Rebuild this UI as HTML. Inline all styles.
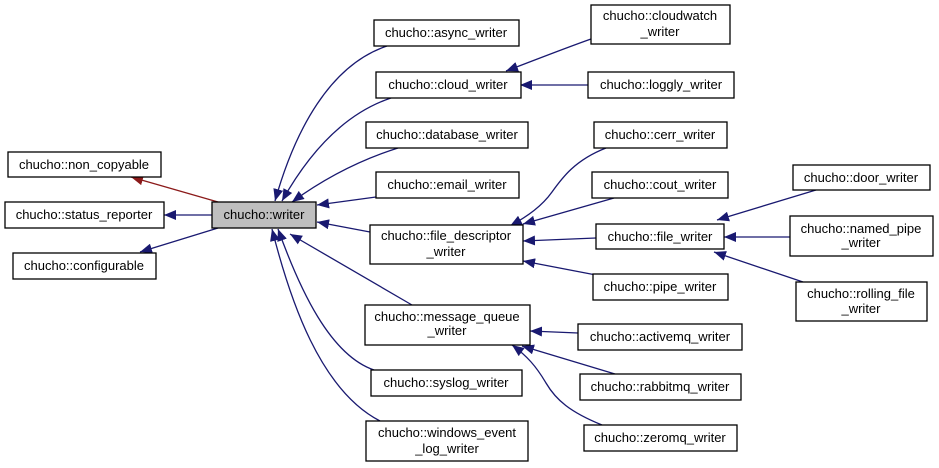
<!DOCTYPE html>
<html><head><style>
html,body{margin:0;padding:0;background:#fff;}
svg{display:block;}
text{font-family:"Liberation Sans",Arial,sans-serif;font-size:13px;fill:#000;text-anchor:middle;}
rect{fill:#fff;stroke:#000;stroke-width:1.3;}
path.e{fill:none;stroke:#191970;stroke-width:1.3;}
</style></head><body>
<svg width="939" height="468" viewBox="0 0 939 468" xmlns="http://www.w3.org/2000/svg">
<defs>
<marker id="a" markerUnits="userSpaceOnUse" markerWidth="14" markerHeight="10" refX="12" refY="5" orient="auto"><path d="M0,0 L12,5 L0,10 z" fill="#191970"/></marker>
<marker id="r" markerUnits="userSpaceOnUse" markerWidth="14" markerHeight="10" refX="12" refY="5" orient="auto"><path d="M0,0 L12,5 L0,10 z" fill="#8b1a1a"/></marker>
</defs>
<!-- edges -->
<path d="M218,202 L131,177" style="fill:none;stroke:#8b1a1a;stroke-width:1.3" marker-end="url(#r)"/>
<path class="e" d="M212,215 L164,215" marker-end="url(#a)"/>
<path class="e" d="M218,228 L140,252" marker-end="url(#a)"/>
<path class="e" d="M387,46 C330,65 295,130 275,201" marker-end="url(#a)"/>
<path class="e" d="M391,98 C340,115 305,160 282,201" marker-end="url(#a)"/>
<path class="e" d="M398,148 C360,160 325,178 292,202" marker-end="url(#a)"/>
<path class="e" d="M376,197 L317,205" marker-end="url(#a)"/>
<path class="e" d="M370,232 L317,222" marker-end="url(#a)"/>
<path class="e" d="M412,305 L290,234" marker-end="url(#a)"/>
<path class="e" d="M374,370 C330,355 300,290 278,229" marker-end="url(#a)"/>
<path class="e" d="M380,421 C320,390 290,300 272,229" marker-end="url(#a)"/>
<path class="e" d="M591,39 C560,50 530,62 506,71" marker-end="url(#a)"/>
<path class="e" d="M588,85 L520,85" marker-end="url(#a)"/>
<path class="e" d="M606,148 C575,160 562,178 552,192 C542,206 528,216 510,226" marker-end="url(#a)"/>
<path class="e" d="M614,198 L523,224" marker-end="url(#a)"/>
<path class="e" d="M596,238 L523,241" marker-end="url(#a)"/>
<path class="e" d="M596,275 L523,261" marker-end="url(#a)"/>
<path class="e" d="M816,190 L717,220" marker-end="url(#a)"/>
<path class="e" d="M790,237 L724,237" marker-end="url(#a)"/>
<path class="e" d="M803,282 L714,252" marker-end="url(#a)"/>
<path class="e" d="M578,333 L530,331" marker-end="url(#a)"/>
<path class="e" d="M615,374 L522,346" marker-end="url(#a)"/>
<path class="e" d="M602,425 C570,412 556,400 546,383 C536,366 527,356 512,345" marker-end="url(#a)"/>
<!-- nodes -->
<rect x="374" y="20" width="145" height="26"/><text x="446" y="37">chucho::async_writer</text>
<rect x="591" y="5" width="139" height="39"/><text x="660" y="20">chucho::cloudwatch</text><text x="660" y="36">_writer</text>
<rect x="376" y="72" width="145" height="26"/><text x="448" y="89">chucho::cloud_writer</text>
<rect x="588" y="72" width="146" height="26"/><text x="661" y="89">chucho::loggly_writer</text>
<rect x="366" y="122" width="162" height="26"/><text x="447" y="139">chucho::database_writer</text>
<rect x="376" y="172" width="143" height="26"/><text x="447" y="189">chucho::email_writer</text>
<rect x="8" y="152" width="153" height="25"/><text x="84" y="169">chucho::non_copyable</text>
<rect x="5" y="202" width="159" height="26"/><text x="84" y="219">chucho::status_reporter</text>
<rect x="212" y="202" width="104" height="26" style="fill:#bfbfbf"/><text x="264" y="219">chucho::writer</text>
<rect x="13" y="253" width="143" height="26"/><text x="84" y="270">chucho::configurable</text>
<rect x="370" y="225" width="153" height="39"/><text x="446" y="240">chucho::file_descriptor</text><text x="446" y="256">_writer</text>
<rect x="594" y="122" width="133" height="26"/><text x="660" y="139">chucho::cerr_writer</text>
<rect x="592" y="172" width="136" height="26"/><text x="660" y="189">chucho::cout_writer</text>
<rect x="596" y="224" width="128" height="25"/><text x="660" y="241">chucho::file_writer</text>
<rect x="593" y="274" width="135" height="26"/><text x="660" y="291">chucho::pipe_writer</text>
<rect x="793" y="165" width="137" height="25"/><text x="861" y="182">chucho::door_writer</text>
<rect x="790" y="216" width="143" height="40"/><text x="861" y="233">chucho::named_pipe</text><text x="861" y="247">_writer</text>
<rect x="796" y="282" width="131" height="39"/><text x="861" y="298">chucho::rolling_file</text><text x="861" y="313">_writer</text>
<rect x="365" y="305" width="165" height="40"/><text x="447" y="321">chucho::message_queue</text><text x="447" y="335">_writer</text>
<rect x="578" y="324" width="164" height="26"/><text x="660" y="341">chucho::activemq_writer</text>
<rect x="371" y="370" width="151" height="26"/><text x="446" y="387">chucho::syslog_writer</text>
<rect x="580" y="374" width="161" height="26"/><text x="660" y="391">chucho::rabbitmq_writer</text>
<rect x="366" y="421" width="162" height="40"/><text x="447" y="437">chucho::windows_event</text><text x="447" y="453">_log_writer</text>
<rect x="584" y="425" width="153" height="26"/><text x="660" y="442">chucho::zeromq_writer</text>
</svg>
</body></html>
